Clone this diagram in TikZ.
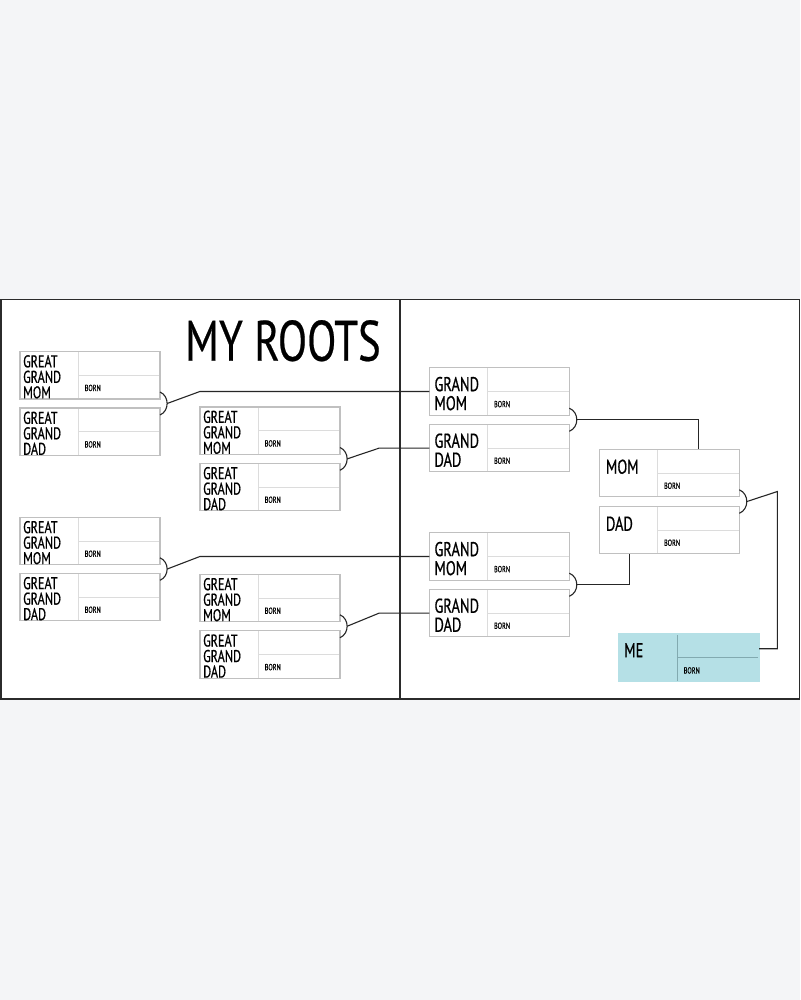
\documentclass[tikz,border=0pt]{standalone}
\usepackage{fontspec}
\newfontfamily\rootsfont[FakeStretch=0.72,FakeBold=0.6]{PT Sans}
\newfontfamily\titlefont[FakeStretch=0.75,FakeBold=0.4]{PT Sans}
\usepackage{tikz}
\usetikzlibrary{positioning}
\definecolor{paper}{HTML}{F4F5F7}
\definecolor{framecol}{HTML}{2B2B2B}
\definecolor{cardline}{HTML}{C0C0C0}
\definecolor{cardrule}{HTML}{DCDCDC}
\definecolor{mefill}{HTML}{B5E0E6}
\definecolor{merule}{HTML}{82AAB0}
\definecolor{linkcol}{HTML}{262626}
\newcommand{\kin}[5]{% card style, name, top left corner, text style, text
  \node[#1] at (#3) (#2) {};
  \node[#4] at (#2.north west) {#5};
  \node[born] at ([xshift=64.5pt,yshift=-39.5pt]#2.north west) {BORN};
}
\tikzset{
  every picture/.style = {
    x = 1pt,
    y = -1pt,
    font = \rootsfont
  }
  ,
  card/.style = {
    rectangle,
    draw = cardline,
    line width = 1.3pt,
    minimum width = 140pt,
    minimum height = 47.5pt,
    inner sep = 0pt,
    outer sep = 0pt,
    anchor = north west,
    path picture = {
      \draw[draw = #1, line width = 1pt]
        ([xshift=58pt]path picture bounding box.north west) -- ([xshift=58pt]path picture bounding box.south west)
        ([xshift=58pt]path picture bounding box.west) -- (path picture bounding box.east);
    }
  }
  ,
  card/.default = cardrule,
  me card/.style = {
    card = merule,
    fill = mefill,
    draw = mefill
  }
  , % names in the cards
  who/.style = {
    anchor = north west,
    inner sep = 0pt,
    align = left
  }
  ,
  great/.style = {who, font = \rootsfont\fontsize{17}{15.5}\selectfont, xshift = 3pt, yshift = -3.5pt},
  grand/.style = {who, font = \rootsfont\fontsize{20}{19}\selectfont, xshift = 5pt, yshift = -9pt},
  parent/.style = {who, font = \rootsfont\fontsize{20}{19}\selectfont, xshift = 6.5pt, yshift = -10pt},
  born/.style = {
    anchor = base west,
    inner sep = 0pt,
    font = \rootsfont\fontsize{8.8}{9}\selectfont
  }
  , % lines between the cards
  branch/.style = {
    draw = linkcol,
    line width = 1.1pt
  }
}

\begin{document}
\begin{tikzpicture}
\useasboundingbox (0,0) rectangle (800,1000);
\fill[paper] (0,0) rectangle (800,1000);
\fill[white] (0,299.5) rectangle (800,699);
\draw[framecol, line width = 1.5pt] (0.75,299.5) rectangle (799.25,699);
\draw[framecol, line width = 2pt] (400,299.5) -- (400,699);

\node[anchor = base west, inner sep = 0pt, font = \titlefont\fontsize{57}{60}\selectfont] at (185,360.7) (title) {MY ROOTS};

\kin{card}{ggm1}{20,351.5}{great}{GREAT\\GRAND\\MOM}
\kin{card}{ggd1}{20,408}{great}{GREAT\\GRAND\\DAD}
\kin{card}{ggm2}{200,407}{great}{GREAT\\GRAND\\MOM}
\kin{card}{ggd2}{200,463.3}{great}{GREAT\\GRAND\\DAD}
\kin{card}{ggm3}{20,517.3}{great}{GREAT\\GRAND\\MOM}
\kin{card}{ggd3}{20,573.3}{great}{GREAT\\GRAND\\DAD}
\kin{card}{ggm4}{200,574.3}{great}{GREAT\\GRAND\\MOM}
\kin{card}{ggd4}{200,630.7}{great}{GREAT\\GRAND\\DAD}
\kin{card}{gm1}{429.3,367.7}{grand}{GRAND\\MOM}
\kin{card}{gd1}{429.3,424.3}{grand}{GRAND\\DAD}
\kin{card}{gm2}{429.3,532.7}{grand}{GRAND\\MOM}
\kin{card}{gd2}{429.3,589.3}{grand}{GRAND\\DAD}
\kin{card}{mom}{599.3,449.3}{parent}{MOM}
\kin{card}{dad}{599.3,506.3}{parent}{DAD}
\kin{me card}{me}{619,634}{grand}{ME}

\draw[branch] ([yshift=7pt]ggm1.south east) .. controls +(9.5,4) and +(9.5,-4) .. ([yshift=-7pt]ggd1.north east) coordinate[pos=.5] (j1);
\draw[branch] ([yshift=7pt]ggm2.south east) .. controls +(9.5,4) and +(9.5,-4) .. ([yshift=-7pt]ggd2.north east) coordinate[pos=.5] (j2);
\draw[branch] ([yshift=7pt]ggm3.south east) .. controls +(9.5,4) and +(9.5,-4) .. ([yshift=-7pt]ggd3.north east) coordinate[pos=.5] (j3);
\draw[branch] ([yshift=7pt]ggm4.south east) .. controls +(9.5,4) and +(9.5,-4) .. ([yshift=-7pt]ggd4.north east) coordinate[pos=.5] (j4);
\draw[branch] ([yshift=7pt]gm1.south east) .. controls +(10,4) and +(10,-4) .. ([yshift=-7pt]gd1.north east) coordinate[pos=.5] (j5);
\draw[branch] ([yshift=7pt]gm2.south east) .. controls +(10,4) and +(10,-4) .. ([yshift=-7pt]gd2.north east) coordinate[pos=.5] (j6);
\draw[branch] ([yshift=7pt]mom.south east) .. controls +(10,4) and +(10,-4) .. ([yshift=-7pt]dad.north east) coordinate[pos=.5] (j7);

\draw[branch] (j1) -- (ggm2.west |- gm1.west) -- (gm1.west);
\draw[branch] (j2) -- ([xshift=-50pt]gd1.west) -- (gd1.west);
\draw[branch] (j3) -- (ggm4.west |- gm2.west) -- (gm2.west);
\draw[branch] (j4) -- ([xshift=-50pt]gd2.west) -- (gd2.west);
\draw[branch] (j5) -| ([xshift=29pt]mom.north);
\draw[branch] (j6) -| ([xshift=-40pt]dad.south);
\draw[branch] (j7) -- ++(30.5,-10) |- ([yshift=9pt]me.east);
\end{tikzpicture}
\end{document}
